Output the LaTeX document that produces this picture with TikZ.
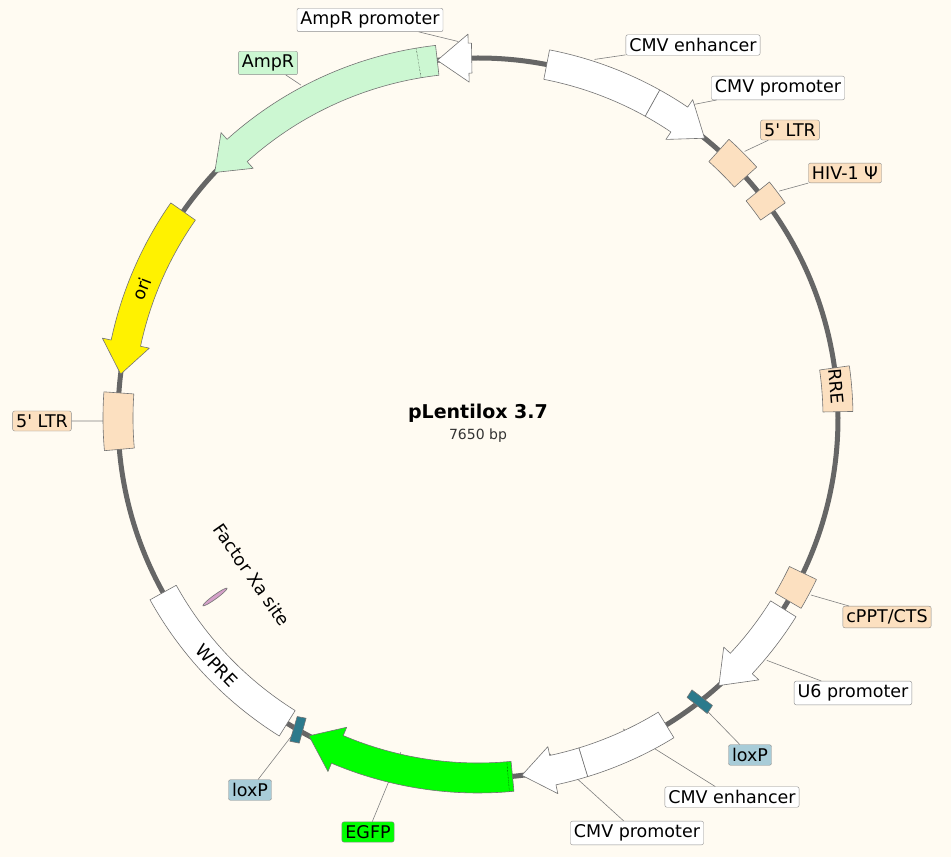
\documentclass[tikz,border=0pt]{standalone}
\usepackage{fontspec}
\setmainfont{DejaVu Sans}
\definecolor{bg}{HTML}{FFFBF2}
\definecolor{peach}{HTML}{FCE0C0}
\definecolor{ampgreen}{HTML}{CCF7D2}
\definecolor{loxteal}{HTML}{2C7A8C}
\definecolor{loxlabel}{HTML}{A8CCD8}
\definecolor{xapink}{HTML}{D4A0C8}
\tikzset{
    x=1pt, y=1pt,
    backbone/.style={draw=black!60, line width=5pt},
    feat/.style={draw=black!55, line width=0.6pt, line join=round},
    lbl/.style={draw=black!45, rounded corners=2pt, fill=white, inner sep=3.5pt,
        font=\fontsize{17.5}{19}\selectfont},
    leader/.style={draw=black!50, line width=0.6pt},
    inner/.style={font=\fontsize{17.5}{19}\selectfont},
}
% box feature: start angle, end angle, fill
\newcommand{\featbox}[3]{%
    \draw[feat, fill=#3] (#1:345) arc[start angle=#1, end angle=#2, radius=345]
        -- (#2:375) arc[start angle=#2, end angle=#1, radius=375] -- cycle;}
% arrow feature: tail angle, head angle, fill, direction (+1 ccw, -1 cw)
\newcommand{\featarrow}[4]{%
    \pgfmathsetmacro\hb{#2-#4*5}
    \draw[feat, fill=#3] (#1:345) arc[start angle=#1, end angle=\hb, radius=345]
        -- (\hb:336) -- (#2:360) -- (\hb:384) -- (\hb:375)
        arc[start angle=\hb, end angle=#1, radius=375] -- cycle;}
% loxP site: centre angle
\newcommand{\featlox}[1]{%
    \draw[feat, fill=loxteal] (#1+0.2:346) -- (#1-1.2:349) -- (#1-0.2:374) -- (#1+1.2:371) -- cycle;}
\begin{document}
\begin{tikzpicture}
    \fill[bg] (-478,-439) rectangle (473,418);
    \useasboundingbox (-478,-439) rectangle (473,418);

    \draw[backbone] (0,0) circle (360);

    % leader end points
    \coordinate (pAMPP) at (93:377);
    \coordinate (pAMP) at (118:377);
    \coordinate (pCMVE) at (72:377);
    \coordinate (pCMVP) at (56:377);
    \coordinate (pLTR) at (45:377);
    \coordinate (pHIV) at (37:377);
    \coordinate (pCPPT) at (-28:377);
    \coordinate (pU6) at (-40:377);
    \coordinate (pLOXR) at (-52:370);
    \coordinate (pCMVEb) at (-65:343);
    \coordinate (pCMVPb) at (-78:343);
    \coordinate (pEGFP) at (-103:343);
    \coordinate (pLOXL) at (-120:350);
    \coordinate (pLTRL) at (180.5:345);

    % outer labels
    \node[lbl] (AMPP) at (-108,398) {AmpR promoter};
    \node[lbl, fill=ampgreen] (AMP) at (-210,355) {AmpR};
    \node[lbl] (CMVE) at (215,373) {CMV enhancer};
    \node[lbl] (CMVP) at (300,330) {CMV promoter};
    \node[lbl, fill=peach] (LTR) at (312,288) {5\textquotesingle{} LTR};
    \node[lbl, fill=peach] (HIV) at (367,245) {HIV-1 Ψ};
    \node[lbl, fill=peach] (CPPT) at (409,-199) {cPPT/CTS};
    \node[lbl] (U6) at (375,-275) {U6 promoter};
    \node[lbl, fill=loxlabel] (LOXR) at (272,-337) {loxP};
    \node[lbl] (CMVEb) at (254,-379) {CMV enhancer};
    \node[lbl] (CMVPb) at (159,-415) {CMV promoter};
    \node[lbl, fill=green] (EGFP) at (-110,-414) {EGFP};
    \node[lbl, fill=loxlabel] (LOXL) at (-228,-372) {loxP};
    \node[lbl, fill=peach] (LTRL) at (-436,-3) {5\textquotesingle{} LTR};

    \draw[leader] (AMPP) -- (pAMPP);
    \draw[leader] (AMP) -- (pAMP);
    \draw[leader] (CMVE) -- (pCMVE);
    \draw[leader] (CMVP) -- (pCMVP);
    \draw[leader] (LTR) -- (pLTR);
    \draw[leader] (HIV) -- (pHIV);
    \draw[leader] (CPPT) -- (pCPPT);
    \draw[leader] (U6) -- (pU6);
    \draw[leader] (LOXR) -- (pLOXR);
    \draw[leader] (CMVEb) -- (pCMVEb);
    \draw[leader] (CMVPb) -- (pCMVPb);
    \draw[leader] (EGFP) -- (pEGFP);
    \draw[leader] (LOXL) -- (pLOXL);
    \draw[leader] (LTRL) -- (pLTRL);

    % features
    \featbox{79}{61}{white}
    \featarrow{61}{51}{white}{-1}
    \featbox{48}{42}{peach}
    \featbox{39}{35}{peach}
    \featbox{8}{1}{peach}
    \featbox{-25.5}{-30.5}{peach}
    \featarrow{-32}{-48}{white}{-1}
    \featlox{-52}
    \featbox{-58.5}{-73}{white}
    \featarrow{-73}{-83}{white}{-1}
    \featarrow{-84.5}{-118}{green}{-1}
    \draw[densely dotted] (-85.2:345) -- (-85.2:375);
    \featlox{-120}
    \featbox{-122}{-151}{white}
    \featbox{176}{185}{peach}
    \featarrow{145}{173}{yellow}{1}
    \featarrow{96.5}{137}{ampgreen}{1}
    \draw[densely dotted] (99.5:345) -- (99.5:375);
    \featarrow{91}{96.5}{white}{1}
    \draw[feat, fill=xapink] (-263,-179) ellipse[x radius=15, y radius=2, rotate=36];

    % labels inside the ring
    \node[inner, rotate=-85] at (5:360) {RRE};
    \node[inner, rotate=69] at (159:360) {ori};
    \node[inner, rotate=-46] at (-136.5:360) {WPRE};
    \node[inner, rotate=-55] (XAlbl) at (-226,-157) {Factor Xa site};

    \node[font=\fontsize{19}{21}\selectfont\bfseries] (TITLE) at (0,5) {pLentilox 3.7};
    \node[font=\fontsize{14}{16}\selectfont, text=black!80] (SIZE) at (0,-18) {7650 bp};
\end{tikzpicture}
\end{document}
